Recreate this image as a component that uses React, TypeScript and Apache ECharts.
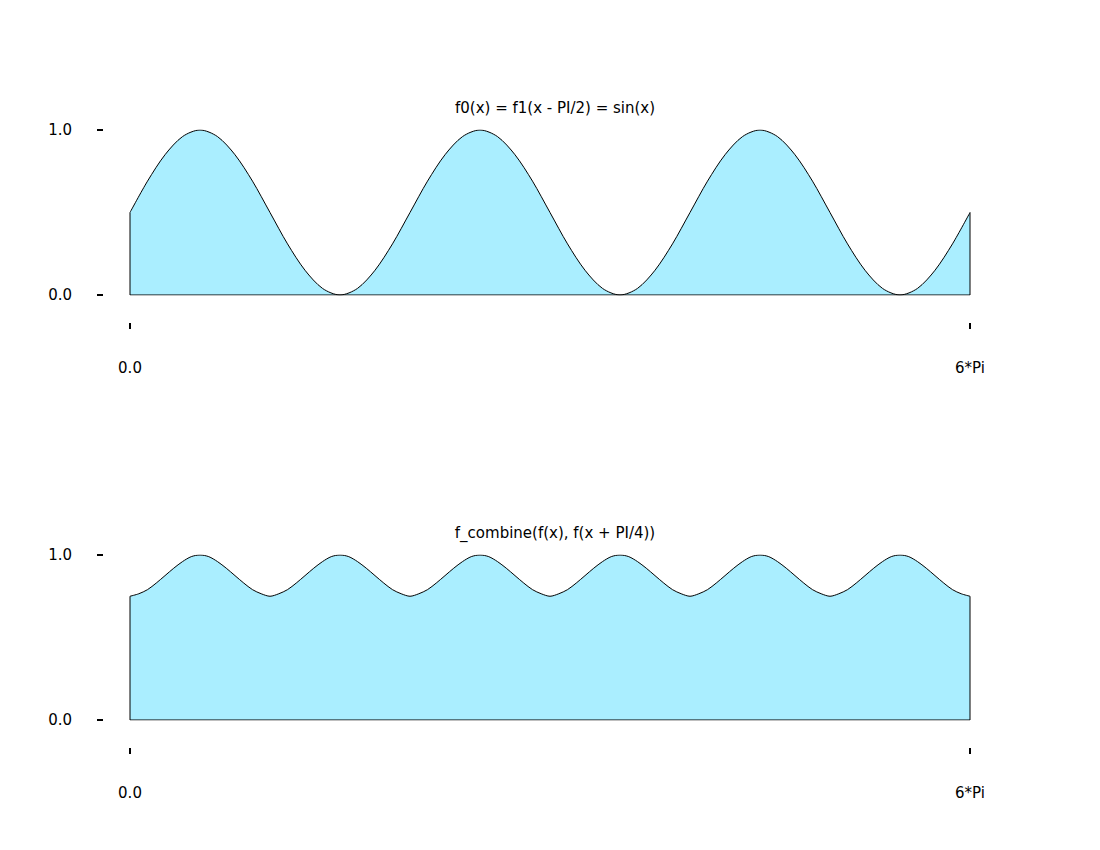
import React, { useEffect, useRef } from "react";
import * as echarts from "echarts";

const titles = ["f0(x) = f1(x - PI/2) = sin(x)", "f_combine(f(x), f(x + PI/4))"];
const xTickLabels = ["0.0", "6*Pi"];
const xMax = 6 * Math.PI;
const topStep = Math.PI / 8;
const bottomStep = Math.PI / 16;

const topValues = [
  0.5, 0.69, 0.85, 0.96, 1.0, 0.96, 0.85, 0.69, 0.5, 0.31, 0.15, 0.04, 0.0, 0.04, 0.15, 0.31,
  0.5, 0.69, 0.85, 0.96, 1.0, 0.96, 0.85, 0.69, 0.5, 0.31, 0.15, 0.04, 0.0, 0.04, 0.15, 0.31,
  0.5, 0.69, 0.85, 0.96, 1.0, 0.96, 0.85, 0.69, 0.5, 0.31, 0.15, 0.04, 0.0, 0.04, 0.15, 0.31,
  0.5,
];

const bottomValues = [
  0.75, 0.765, 0.79, 0.83, 0.875, 0.92, 0.96, 0.99, 1.0, 0.99, 0.96, 0.92, 0.875, 0.83, 0.79, 0.765,
  0.75, 0.765, 0.79, 0.83, 0.875, 0.92, 0.96, 0.99, 1.0, 0.99, 0.96, 0.92, 0.875, 0.83, 0.79, 0.765,
  0.75, 0.765, 0.79, 0.83, 0.875, 0.92, 0.96, 0.99, 1.0, 0.99, 0.96, 0.92, 0.875, 0.83, 0.79, 0.765,
  0.75, 0.765, 0.79, 0.83, 0.875, 0.92, 0.96, 0.99, 1.0, 0.99, 0.96, 0.92, 0.875, 0.83, 0.79, 0.765,
  0.75, 0.765, 0.79, 0.83, 0.875, 0.92, 0.96, 0.99, 1.0, 0.99, 0.96, 0.92, 0.875, 0.83, 0.79, 0.765,
  0.75, 0.765, 0.79, 0.83, 0.875, 0.92, 0.96, 0.99, 1.0, 0.99, 0.96, 0.92, 0.875, 0.83, 0.79, 0.765,
  0.75,
];

const FONT = "DejaVu Sans";
const FILL = "#aaeeff";

function toPairs(vals: number[], step: number) {
  return vals.map((v, i) => [i * step, v]);
}
function outline(vals: number[]) {
  return [
    [xMax, vals[vals.length - 1]],
    [xMax, 0],
    [0, 0],
    [0, vals[0]],
  ];
}

export default function App() {
  const ref = useRef<HTMLDivElement>(null);
  useEffect(() => {
    if (!ref.current) return;
    const chart = echarts.init(ref.current, null, { renderer: "svg" });
    const grids = [
      { left: 130, width: 840, top: 130, height: 165 },
      { left: 130, width: 840, top: 555, height: 165 },
    ];
    const xAxes = grids.map((_, i) => ({
      type: "value",
      gridIndex: i,
      min: 0,
      max: xMax,
      interval: xMax,
      offset: 28,
      axisLine: { show: true, onZero: false, lineStyle: { color: "rgba(0,0,0,0)" } },
      axisTick: { show: true, length: 6, lineStyle: { color: "#000", width: 2 } },
      splitLine: { show: false },
      axisLabel: {
        show: true,
        margin: 37,
        showMinLabel: true,
        showMaxLabel: true,
        fontFamily: FONT,
        fontSize: 15,
        color: "#000",
        formatter: (v: number) => (v === 0 ? xTickLabels[0] : xTickLabels[1]),
      },
    }));
    const yAxes = grids.map((_, i) => ({
      type: "value",
      gridIndex: i,
      min: 0,
      max: 1,
      interval: 1,
      offset: 27,
      axisLine: { show: true, onZero: false, lineStyle: { color: "rgba(0,0,0,0)" } },
      axisTick: { show: true, length: 6, lineStyle: { color: "#000", width: 2 } },
      splitLine: { show: false },
      axisLabel: {
        show: true,
        margin: 31,
        fontFamily: FONT,
        fontSize: 15,
        color: "#000",
        formatter: (v: number) => v.toFixed(1),
      },
    }));
    const datasets = [
      { vals: topValues, step: topStep },
      { vals: bottomValues, step: bottomStep },
    ];
    const series: any[] = [];
    datasets.forEach((d, i) => {
      series.push({
        type: "line",
        xAxisIndex: i,
        yAxisIndex: i,
        data: toPairs(d.vals, d.step),
        smooth: 0.3,
        showSymbol: false,
        symbol: "none",
        lineStyle: { color: "#000", width: 1 },
        areaStyle: { color: FILL, opacity: 1 },
        z: 2,
      });
      series.push({
        type: "line",
        xAxisIndex: i,
        yAxisIndex: i,
        data: outline(d.vals),
        smooth: false,
        symbol: "none",
        lineStyle: { color: "#000", width: 1 },
        z: 3,
      });
    });
    chart.setOption({
      animation: false,
      backgroundColor: "#fff",
      title: [
        {
          text: titles[0],
          left: 550,
          top: 95,
          textAlign: "center",
          textStyle: { fontFamily: FONT, fontSize: 15, fontWeight: "normal", color: "#000" },
        },
        {
          text: titles[1],
          left: 550,
          top: 520,
          textAlign: "center",
          textStyle: { fontFamily: FONT, fontSize: 15, fontWeight: "normal", color: "#000" },
        },
      ],
      grid: grids,
      xAxis: xAxes,
      yAxis: yAxes,
      series,
    });
    return () => chart.dispose();
  }, []);
  return (
    <div
      ref={ref}
      style={{ position: "absolute", left: 0, top: 0, width: 1100, height: 850 }}
    />
  );
}
